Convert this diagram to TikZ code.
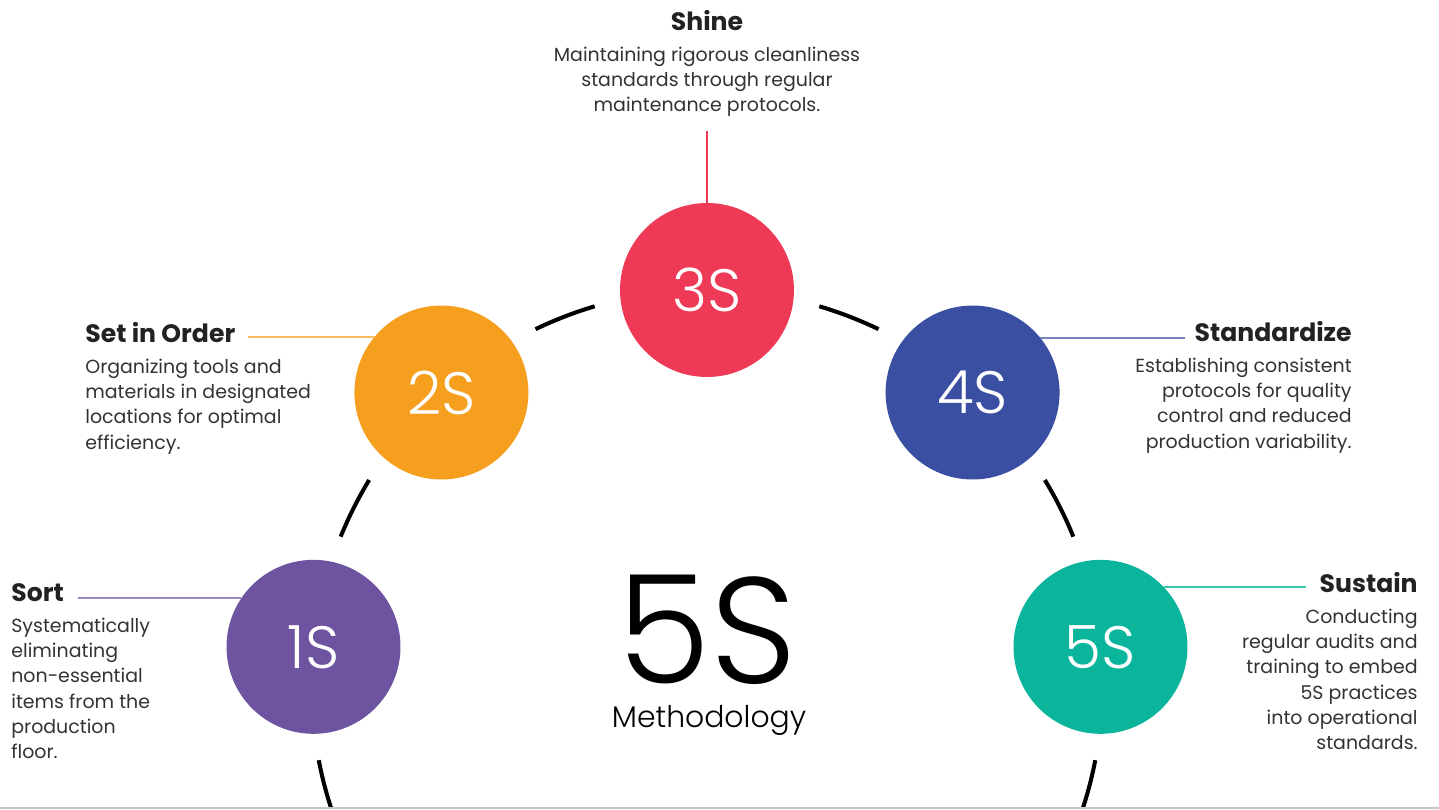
\documentclass[tikz,border=0pt]{standalone}
\usepackage{fontspec}
\setmainfont{Poppins}
\newfontfamily\thinfont{Poppins Light}
\usetikzlibrary{positioning}

\definecolor{sortc}{RGB}{110,83,161}
\definecolor{orderc}{RGB}{246,158,30}
\definecolor{shinec}{RGB}{238,58,86}
\definecolor{standc}{RGB}{59,79,162}
\definecolor{sustc}{RGB}{11,181,155}
\definecolor{ink}{RGB}{34,34,34}
\definecolor{bodyc}{RGB}{51,51,51}

\begin{document}
\begin{tikzpicture}[x=0.02cm,y=0.02cm]
    \tikzset{
        bubble/.style={circle, minimum size=3.48cm, inner sep=0pt, text=white,
            font=\thinfont\fontsize{34}{34}\selectfont},
        stitle/.style={inner sep=0pt, text=ink, font=\bfseries\fontsize{14.3}{16}\selectfont},
        sbody/.style={inner sep=0pt, text=bodyc, font=\fontsize{10.8}{14.4}\selectfont},
        slink/.style={line width=0.6pt},
        ring/.style={line width=2.3pt}
    }
    \fill[white] (0,0) rectangle (1439,-809);
    \useasboundingbox (0,0) rectangle (1439,-809);

    % centre of the big ring
    \coordinate (O) at (707,-685.4);

    % the five steps
    \node[bubble, fill=sortc]  (c1) at ([shift={(174.4:395.4)}]O) {1S};
    \node[bubble, fill=orderc] (c2) at ([shift={(132.2:395.4)}]O) {2S};
    \node[bubble, fill=shinec] (c3) at ([shift={(90:395.4)}]O) {3S};
    \node[bubble, fill=standc] (c4) at ([shift={(47.8:395.4)}]O) {4S};
    \node[bubble, fill=sustc]  (c5) at ([shift={(5.6:395.4)}]O) {5S};

    % ring pieces between the bubbles
    \foreach \a in {174.4,132.2,90,47.8}
        \draw[ring] ([shift={(\a-16.5:395.4)}]O) arc[start angle=\a-16.5, end angle=\a-25.7, radius=395.4];
    \begin{scope}
        \clip (0,0) rectangle (1439,-807);
        \draw[ring] ([shift={(190.9:395.4)}]O) arc[start angle=190.9, end angle=200, radius=395.4];
        \draw[ring] ([shift={(-10.9:395.4)}]O) arc[start angle=-10.9, end angle=-20, radius=395.4];
    \end{scope}
    \draw[black!22, line width=1.5pt] (0,-808) -- (1439,-808);

    % centre text
    \node[inner sep=0pt, anchor=base, text depth=0pt, font=\thinfont\fontsize{86}{86}\selectfont] (big) at (707,-683) {5S};
    \node[inner sep=0pt, anchor=base, text height=12pt, font=\thinfont\fontsize{17}{17}\selectfont] (meth) at (709,-727) {Methodology};

    % Shine
    \node[stitle, anchor=base] (t3) at (707,-30) {Shine};
    \node[sbody, align=center, below=0.32cm of t3] (d3) {Maintaining rigorous cleanliness\\standards through regular\\maintenance protocols.};
    \draw[slink, shinec] ([shift={(0,-14)}]d3.south) -- (c3.north);

    % Set in Order
    \node[stitle, anchor=base west] (t2) at (85,-342) {Set in Order};
    \node[sbody, align=left, below=0.32cm of t2.south west, anchor=north west] (d2) {Organizing tools and\\materials in designated\\locations for optimal\\efficiency.};
    \coordinate (l2) at ([shift={(12,5)}]t2.base east);
    \draw[slink, orderc!70] (l2) -- (c2.140 |- l2);

    % Standardize
    \node[stitle, anchor=base east] (t4) at (1352,-341) {Standardize};
    \node[sbody, align=right, below=0.32cm of t4.south east, anchor=north east] (d4) {Establishing consistent\\protocols for quality\\control and reduced\\production variability.};
    \coordinate (l4) at ([shift={(-9,3)}]t4.base west);
    \draw[slink, standc!70] (l4) -- (c4.40 |- l4);

    % Sort
    \node[stitle, anchor=base west] (t1) at (11,-601) {Sort};
    \node[sbody, align=left, below=0.32cm of t1.south west, anchor=north west] (d1) {Systematically\\eliminating\\non-essential\\items from the\\production\\floor.};
    \coordinate (l1) at ([shift={(14,3)}]t1.base east);
    \draw[slink, sortc!70] (l1) -- (c1.146 |- l1);

    % Sustain
    \node[stitle, anchor=base east] (t5) at (1418,-592) {Sustain};
    \node[sbody, align=right, below=0.32cm of t5.south east, anchor=north east] (d5) {Conducting\\regular audits and\\training to embed\\5S practices\\into operational\\standards.};
    \coordinate (l5) at ([shift={(-13,5)}]t5.base west);
    \draw[slink, sustc!80] (l5) -- (c5.43 |- l5);
\end{tikzpicture}
\end{document}
